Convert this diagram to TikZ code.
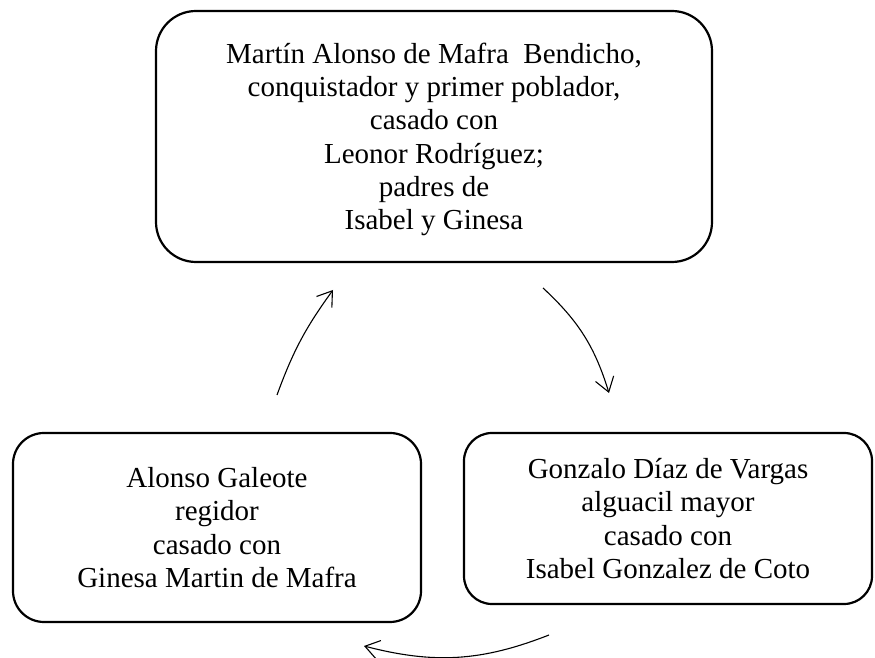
\documentclass[tikz,border=0pt]{standalone}
\usepackage{fontspec}
\setmainfont{Liberation Serif}
\usetikzlibrary{arrows.meta}
\begin{document}
\begin{tikzpicture}[x=1pt,y=1pt,
  famnode/.style={draw, line width=2.2pt, align=center, inner sep=0pt,
    font=\fontsize{29}{33.3}\selectfont},
  link/.style={line width=1.1pt, -{Straight Barb[length=14pt,width=19pt]}}]
\useasboundingbox (0,0) rectangle (875,658);
\node[famnode, rounded corners=40pt, minimum width=556pt, minimum height=251pt] (top) at (434,521.5)
  {\rule{0pt}{27pt}Martín Alonso de Mafra\ \ Bendicho,\\ conquistador y primer poblador,\\ casado con\\ Leonor Rodríguez;\\ padres de\\ Isabel y Ginesa\rule[-7pt]{0pt}{7pt}};
\node[famnode, rounded corners=31pt, minimum width=408pt, minimum height=189pt] (left) at (217,130.5)
  {\rule{0pt}{27pt}Alonso Galeote\\ regidor\\ casado con\\ Ginesa Martin de Mafra\rule[-7pt]{0pt}{7pt}};
\node[famnode, rounded corners=28pt, minimum width=408pt, minimum height=171pt] (right) at (668,139.5)
  {\rule{0pt}{27pt}Gonzalo Díaz de Vargas\\ alguacil mayor\\ casado con\\ Isabel Gonzalez de Coto\rule[-7pt]{0pt}{7pt}};
\coordinate (a1s) at (277,263);
\coordinate (a1e) at (333,368);
\coordinate (a2s) at (543,370);
\coordinate (a2e) at (609,265);
\coordinate (a3s) at (549,23);
\coordinate (a3e) at (364,12);
\draw[link] (a1s) to[bend left=8] (a1e);
\draw[link] (a2s) to[bend left=15] (a2e);
\draw[link] (a3s) to[bend left=18] (a3e);
\end{tikzpicture}
\end{document}
